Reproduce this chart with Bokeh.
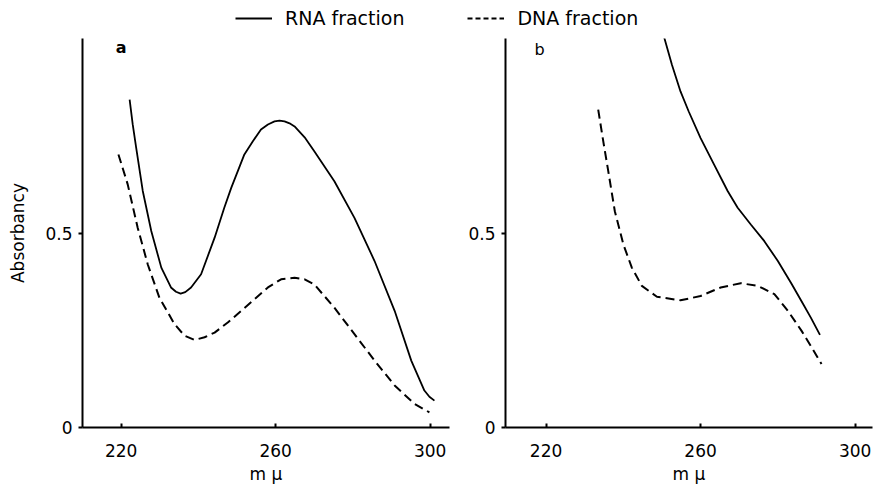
from bokeh.plotting import figure
from bokeh.models import Range1d, FixedTicker, Legend, LegendItem, Label
from bokeh.layouts import column, row
from bokeh.embed import file_html
from bokeh.resources import INLINE

# ---- data ----
rna_a_x = [222.2, 223.0, 223.9, 225.6, 227.8, 230.4, 232.9, 234.2, 235.4, 236.6, 238.1, 240.7,
           244.2, 246.7, 248.5, 251.9, 254.1, 256.2, 258.0, 259.7, 261.0, 262.3, 263.6, 264.9,
           267.5, 270.0, 275.2, 280.4, 285.6, 290.8, 295.1, 298.5, 299.8, 301.1]
rna_a_y = [0.843, 0.779, 0.719, 0.608, 0.505, 0.411, 0.360, 0.349, 0.344, 0.348, 0.360, 0.394,
           0.488, 0.565, 0.616, 0.702, 0.736, 0.766, 0.779, 0.787, 0.789, 0.787, 0.782, 0.774,
           0.746, 0.710, 0.633, 0.539, 0.428, 0.300, 0.172, 0.095, 0.079, 0.069]
dna_a_x = [219.3, 221.7, 224.3, 226.9, 229.9, 233.8, 236.4, 239.0, 241.6, 244.2, 247.6, 251.1,
           258.0, 261.4, 264.9, 267.5, 270.0, 275.2, 280.4, 285.6, 290.8, 295.9, 299.8]
dna_a_y = [0.702, 0.625, 0.513, 0.419, 0.334, 0.266, 0.236, 0.225, 0.232, 0.244, 0.270, 0.300,
           0.360, 0.381, 0.385, 0.381, 0.368, 0.308, 0.240, 0.172, 0.108, 0.061, 0.039]
rna_b_x = [250.4, 252.6, 254.8, 256.9, 260.0, 263.5, 267.0, 269.6, 273.0, 276.5, 280.0, 283.5,
           286.5, 288.5, 290.9]
rna_b_y = [1.009, 0.932, 0.864, 0.813, 0.744, 0.676, 0.608, 0.565, 0.522, 0.479, 0.428, 0.370,
           0.318, 0.283, 0.238]
dna_b_x = [233.5, 234.8, 236.1, 237.8, 240.0, 242.2, 244.8, 248.7, 254.8, 260.0, 265.2, 270.4,
           274.8, 279.1, 282.6, 286.1, 288.5, 291.3]
dna_b_y = [0.817, 0.736, 0.659, 0.556, 0.471, 0.411, 0.364, 0.336, 0.327, 0.338, 0.360, 0.371,
           0.364, 0.343, 0.300, 0.249, 0.210, 0.163]

x_ticks = [220, 260, 300]
y_ticks = [0, 0.5]
y_tick_labels = {0: "0", 0.5: "0.5"}
x_label = "m µ"
y_label = "Absorbancy"
legend_labels = ["RNA fraction", "DNA fraction"]
panel_labels = ["a", "b"]

FONT = "DejaVu Sans"
DASH = "9 5"


def style(p, show_ylabel):
    p.outline_line_color = None
    p.xgrid.visible = False
    p.ygrid.visible = False
    for ax in (p.xaxis[0], p.yaxis[0]):
        ax.axis_line_width = 2
        ax.axis_line_color = "black"
        ax.major_tick_line_color = "black"
        ax.major_tick_line_width = 2
        ax.minor_tick_line_color = None
        ax.major_label_text_font = FONT
        ax.major_label_text_font_size = "17px"
        ax.major_label_text_color = "black"
        ax.axis_label_text_font = FONT
        ax.axis_label_text_font_size = "17px"
        ax.axis_label_text_font_style = "normal"
        ax.axis_label_text_color = "black"
    xa = p.xaxis[0]
    xa.ticker = FixedTicker(ticks=x_ticks)
    xa.major_tick_in = 4
    xa.major_tick_out = 0
    xa.major_label_standoff = 16
    xa.axis_label = x_label
    xa.axis_label_standoff = 4
    ya = p.yaxis[0]
    ya.ticker = FixedTicker(ticks=y_ticks)
    ya.major_label_overrides = y_tick_labels
    ya.major_tick_in = 0
    ya.major_tick_out = 4
    ya.major_label_standoff = 6
    if show_ylabel:
        ya.axis_label = y_label
        ya.axis_label_standoff = 14


p1 = figure(width=455, height=461, x_range=Range1d(210, 305), y_range=Range1d(0, 1.0),
            output_backend="svg", toolbar_location=None,
            min_border_left=82, min_border_right=6, min_border_top=8, min_border_bottom=64)
style(p1, True)
p1.line(rna_a_x, rna_a_y, line_color="black", line_width=1.8)
p1.line(dna_a_x, dna_a_y, line_color="black", line_width=2, line_dash=DASH)
p1.add_layout(Label(x=220.0, y=0.976, text=panel_labels[0], text_font=FONT,
                    text_font_size="16px", text_align="center", text_baseline="middle",
                    text_font_style="bold", text_color="black"))

p2 = figure(width=425, height=461, x_range=Range1d(209.5, 304.5), y_range=Range1d(0, 1.0),
            output_backend="svg", toolbar_location=None,
            min_border_left=50, min_border_right=8, min_border_top=8, min_border_bottom=64)
style(p2, False)
p2.line(rna_b_x, rna_b_y, line_color="black", line_width=1.8)
p2.line(dna_b_x, dna_b_y, line_color="black", line_width=2, line_dash=DASH)
p2.add_layout(Label(x=218.3, y=0.972, text=panel_labels[1], text_font=FONT,
                    text_font_size="16px", text_align="center", text_baseline="middle",
                    text_color="black"))

# legend strip above both panels
pl = figure(width=880, height=30, x_range=Range1d(0, 1), y_range=Range1d(0, 1),
            output_backend="svg", toolbar_location=None,
            min_border=0, x_axis_type=None, y_axis_type=None)
pl.outline_line_color = None
pl.xgrid.visible = False
pl.ygrid.visible = False
# dummy renderers kept outside the visible range, only used for legend glyphs
r_solid = pl.line([0, 1], [-5, -5], line_color="black", line_width=1.8)
r_dash = pl.line([0, 1], [-5, -5], line_color="black", line_width=2, line_dash="5 3")
leg = Legend(items=[LegendItem(label=legend_labels[0], renderers=[r_solid]),
                    LegendItem(label=legend_labels[1], renderers=[r_dash])],
             orientation="horizontal", location=(235, 1),
             glyph_width=37, glyph_height=22, label_standoff=13, spacing=63,
             padding=0, margin=0, border_line_color=None, background_fill_alpha=0,
             label_text_font=FONT, label_text_font_size="19px", label_text_color="black")
pl.add_layout(leg, "center")

layout = column(pl, row(p1, p2, spacing=0), spacing=0)

open("out.html", "w").write(file_html(layout, INLINE))
